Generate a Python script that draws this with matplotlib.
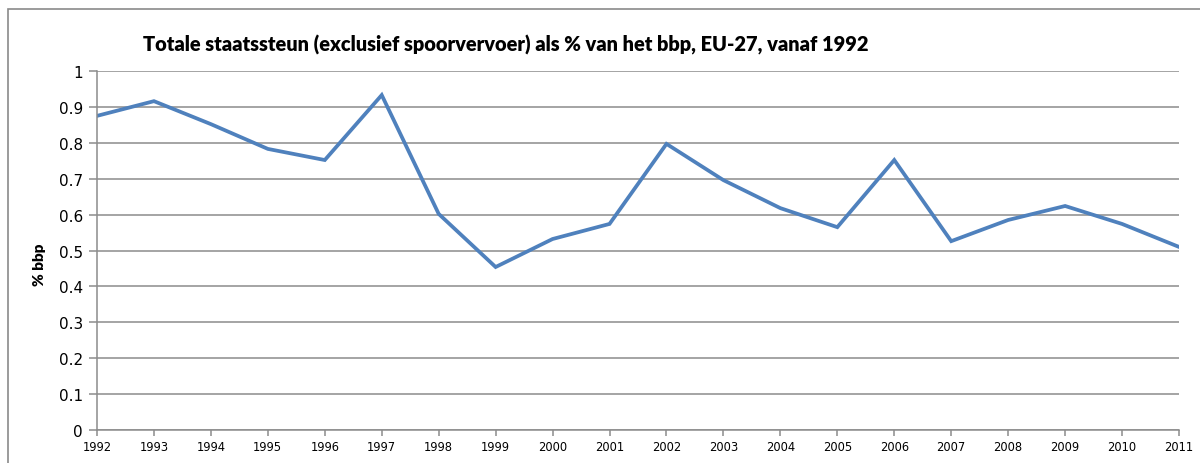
import matplotlib
matplotlib.use("Agg")
import matplotlib.pyplot as plt
from matplotlib.patches import Rectangle

# Data
years = [str(y) for y in range(1992, 2012)]
steun_pct = [0.875, 0.916, 0.852, 0.783, 0.752, 0.933, 0.602, 0.454, 0.532, 0.574,
             0.797, 0.696, 0.618, 0.565, 0.752, 0.526, 0.585, 0.624, 0.574, 0.510]
y_ticks = [0, 0.1, 0.2, 0.3, 0.4, 0.5, 0.6, 0.7, 0.8, 0.9, 1]
y_labels = ["0", "0.1", "0.2", "0.3", "0.4", "0.5", "0.6", "0.7", "0.8", "0.9", "1"]

title = "Totale staatssteun (exclusief spoorvervoer) als % van het bbp, EU-27, vanaf 1992"
grid_col = "#8c8c8c"

fig = plt.figure(figsize=(12, 4.64), dpi=100)
fig.patches.append(Rectangle((8 / 1200, -0.1), 1.2, 1 - 10 / 464 + 0.1,
                             transform=fig.transFigure, fill=False,
                             edgecolor="#8a8a8a", lw=1.2))

ax = fig.add_axes([97 / 1200, 33 / 464, (1179 - 97) / 1200, (431 - 72) / 464])
x = range(len(years))
ax.plot(x, steun_pct, color="#4f81bd", lw=2.7, solid_joinstyle="miter")

ax.set_xlim(0, len(years) - 1)
ax.set_ylim(0, 1)
ax.set_xticks(list(x))
ax.set_xticklabels(years, fontsize=8.3, family="DejaVu Sans")
ax.set_yticks(y_ticks)
ax.set_yticklabels(y_labels, fontsize=11, family="DejaVu Sans")
ax.yaxis.grid(True, color=grid_col, lw=1.1)
ax.set_axisbelow(True)

for s in ["top", "right"]:
    ax.spines[s].set_visible(False)
for s in ["left", "bottom"]:
    ax.spines[s].set_color(grid_col)
    ax.spines[s].set_linewidth(1.1)
ax.tick_params(axis="y", length=6, width=1.1, color=grid_col, pad=4)
ax.tick_params(axis="x", length=4, width=1.1, color=grid_col, pad=3)

fig.text(40 / 1200, 1 - 265 / 464, "% bbp", rotation=90, ha="center", va="center",
         fontsize=11, fontweight="heavy", family="Lato")
fig.text(143 / 1200, 1 - 45 / 464, title, ha="left", va="center",
         fontsize=14.4, fontweight="heavy", family="Lato")

fig.savefig("out.png", dpi=100)
